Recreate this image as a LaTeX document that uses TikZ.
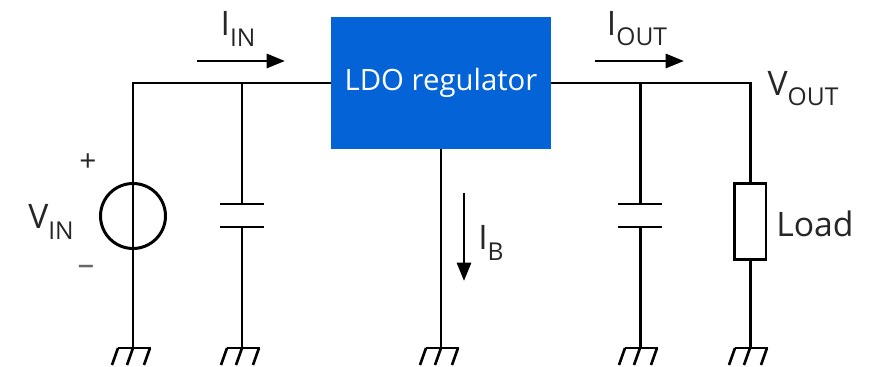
\documentclass[tikz,border=0pt]{standalone}
\usepackage{fontspec}
\setmainfont{Open Sans}
\usetikzlibrary{arrows.meta}
\newcommand{\lowtxt}[1]{\raisebox{-0.3em}{\fontsize{14}{16}\selectfont #1}}
\begin{document}
\begin{tikzpicture}[x=0.02cm,y=-0.02cm,
  wire/.style={line width=1.7pt,black},
  flow/.style={line width=1.7pt,black,-{Triangle[length=10.5pt,width=8pt]}},
  block/.style={rectangle,fill=ldoblue,text=white,minimum width=4.4cm,minimum height=2.64cm,inner sep=0pt,font=\fontsize{16.7}{18}\selectfont},
  label/.style={inner sep=0pt,text=black!85,font=\fontsize{19.2}{22}\selectfont},
  earth/.style={line width=1.5pt,black}]
\definecolor{ldoblue}{RGB}{4,99,214}
\useasboundingbox (0,0) rectangle (869,367);
\def\topY{83}
\def\gndY{348}
  %\draw[help lines] (0,0) grid (869,367);
\node [block] (ldo) at (441,83) {\raisebox{-1.5pt}{LDO regulator}};
\node [draw,circle,line width=1.7pt,minimum size=1.3cm,inner sep=0pt] (vsrc) at (133,216) {};
\node [draw,rectangle,fill=white,line width=1.7pt,minimum width=0.64cm,minimum height=1.52cm,inner sep=0pt] (load) at (750,221.5) {};
\coordinate (inCorner) at (133,\topY);
\coordinate (inCap) at (242,\topY);
\coordinate (outCap) at (640,\topY);
\coordinate (outCorner) at (750,\topY);
\coordinate (gndSrc) at (133,\gndY);
\coordinate (gndInCap) at (242,\gndY);
\coordinate (gndLdo) at (441,\gndY);
\coordinate (gndOutCap) at (640,\gndY);
\coordinate (gndLoad) at (750,\gndY);
% wires
\draw[wire] (gndSrc) -- (inCorner) -- (ldo.west |- inCorner);
\draw[wire] (ldo.east |- outCorner) -- (outCorner) -- (load.north);
\draw[wire] (load.south) -- (gndLoad);
\draw[wire] (ldo.south) -- (gndLdo);
% capacitors
\foreach \capX/\capTop/\capGnd in {242/inCap/gndInCap,640/outCap/gndOutCap}{
  \coordinate (plateA) at (\capX,204);
  \coordinate (plateB) at (\capX,227);
  \draw[wire] (\capTop) -- (plateA);
  \draw[wire] (plateB) -- (\capGnd);
  \draw[wire] (\capX-22,204) -- (\capX+22,204);
  \draw[wire] (\capX-22,227) -- (\capX+22,227);
}
% grounds
\foreach \gndName in {gndSrc,gndInCap,gndLdo,gndOutCap,gndLoad}{
  \draw[earth] ([xshift=-0.3cm]\gndName) -- ([xshift=0.36cm]\gndName);
  \draw[earth] ([xshift=-0.3cm]\gndName) -- ++(-6,17);
  \draw[earth] (\gndName) -- ++(-6,17);
  \draw[earth] ([xshift=0.34cm]\gndName) -- ++(-6,17);
}
% currents
\coordinate (inA) at (197,61);
\coordinate (inB) at (285,61);
\coordinate (outA) at (595,61);
\coordinate (outB) at (684,61);
\coordinate (bA) at (464,193);
\coordinate (bB) at (464,281);
\draw[flow] (inA) -- (inB);
\draw[flow] (outA) -- (outB);
\draw[flow] (bA) -- (bB);
\path
(238,29) node [label] (iin) {I\lowtxt{IN}}
(637,29) node [label] (iout) {I\lowtxt{OUT}}
(491,243) node [label] (ib) {I\lowtxt{B}}
(803,89) node [label] (vout) {V\lowtxt{OUT}}
(51,222) node [label] (vin) {V\lowtxt{IN}}
(815,224) node [label] (loadtxt) {Load}
(88,163) node [label,font=\fontsize{17}{18}\selectfont] (plus) {+}
(86,270) node [label,text=black!60,font=\fontsize{19}{20}\selectfont] (minus) {--}
;
\end{tikzpicture}
\end{document}
